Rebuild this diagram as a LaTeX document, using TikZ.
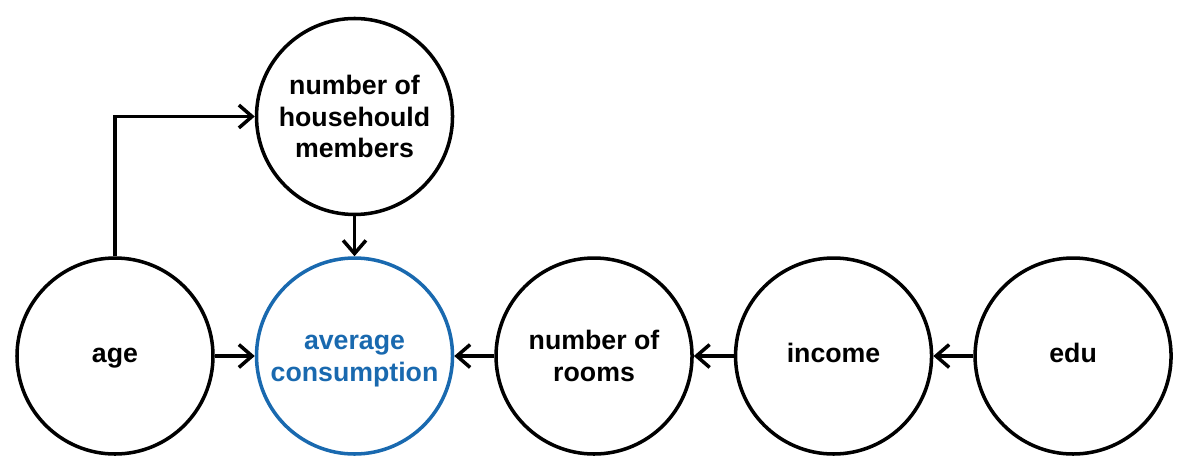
\documentclass[tikz,border=0pt]{standalone}
\usepackage{fontspec}
\setmainfont{Liberation Sans}
\usepackage{xcolor}
\usetikzlibrary{arrows.meta,positioning}
\definecolor{targetblue}{RGB}{25,105,175}
\begin{document}
\begin{tikzpicture}[node distance=0.8cm]
	\tikzstyle{var}
	  =[draw, circle, line width=2pt, minimum size=3.92cm,
	  align=center, font=\bfseries\fontsize{15.2}{18}\selectfont]
	\tikzstyle{onevar}
	  =[var, text height=10.9pt, text depth=3.2pt]
	\tikzstyle{target}
	  =[var, draw=targetblue, text=targetblue]
	\tikzstyle{link}
	  =[-{Straight Barb[length=7.5pt,width=13pt]}, line width=2pt]

	\useasboundingbox (0,0) rectangle (23.74,-9.46);

	\node[onevar] (age) at (2.3,-7.12) {age};
	\node[target] (avg)
	  [right=of age] {\vphantom{b}average\\\smash{consumption}};
	\node[var] (members)
	  [above=of avg] {number of\\househould\\members};
	\node[var] (rooms)
	  [right=of avg] {number of\\rooms};
	\node[onevar] (income)
	  [right=of rooms] {income};
	\node[onevar] (edu)
	  [right=of income] {edu};

	\draw[link] (age) -- (avg);
	\draw[link] (age.north) |- (members.west);
	\draw[link] (members) -- (avg);
	\draw[link] (rooms) -- (avg);
	\draw[link] (income) -- (rooms);
	\draw[link] (edu) -- (income);
\end{tikzpicture}
\end{document}
